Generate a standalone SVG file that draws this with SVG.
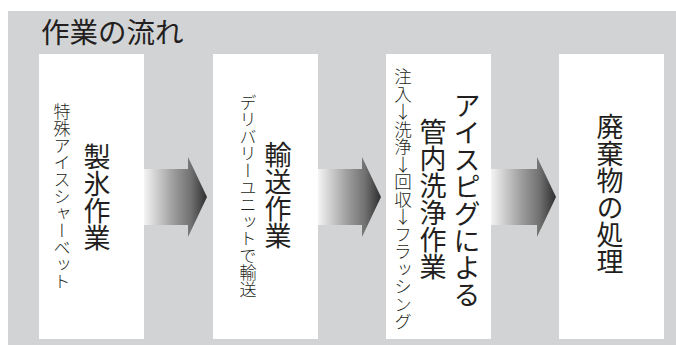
<svg xmlns="http://www.w3.org/2000/svg" width="676" height="345" viewBox="0 0 676 345">
<style>
  .bg { fill: #d2d3d5; }
  .box { fill: #ffffff; }
  .t { font-family: "Noto Sans CJK JP", "Noto Sans", sans-serif; fill: #231f20; }
  .v { writing-mode: vertical-rl; text-anchor: middle; }
  .up { text-orientation: upright; }
  .small { font-size: 17px; font-weight: 300; }
  .big { font-size: 27px; font-weight: 400; }
  .arrow { fill: url(#ag); }
</style>
<defs>
  <linearGradient id="ag" x1="0" y1="0" x2="1" y2="0">
    <stop offset="0" stop-color="#f4f4f4"/>
    <stop offset="0.45" stop-color="#a0a0a0"/>
    <stop offset="0.75" stop-color="#707070"/>
    <stop offset="1" stop-color="#2e2e2e"/>
  </linearGradient>
</defs>
<rect class="bg" x="8" y="11" width="668" height="334"/>
<text class="t" x="41" y="43" font-size="28.5">作業の流れ</text>

<g id="node-seihyo">
  <rect class="box" x="39" y="54" width="105" height="285"/>
  <text class="t v small" x="62" y="197">特殊アイスシャーベット</text>
  <text class="t v big" x="97" y="197">製氷作業</text>
</g>
<g id="node-yuso">
  <rect class="box" x="213" y="54" width="105" height="285"/>
  <text class="t v small" x="248" y="196">デリバリーユニットで輸送</text>
  <text class="t v big" x="278" y="195">輸送作業</text>
</g>
<g id="node-senjo">
  <rect class="box" x="386" y="54" width="105" height="285"/>
  <text class="t v up small" x="403" y="199" style="font-size:17.5px">注入↓洗浄↓回収↓フラッシング</text>
  <text class="t v big" x="433" y="199">管内洗浄作業</text>
  <text class="t v big" x="467" y="200">アイスピグによる</text>
</g>
<g id="node-haiki">
  <rect class="box" x="559" y="54" width="105" height="285"/>
  <text class="t v big" x="610" y="194">廃棄物の処理</text>
</g>

<g id="connectors">
  <polygon class="arrow" points="144,169 188,169 188,157 207,197 188,237 188,225 144,225"/>
  <polygon class="arrow" points="318,169 362,169 362,157 381,197 362,237 362,225 318,225"/>
  <polygon class="arrow" points="491,169 537,169 537,157 556,197 537,237 537,225 491,225"/>
</g>
</svg>
